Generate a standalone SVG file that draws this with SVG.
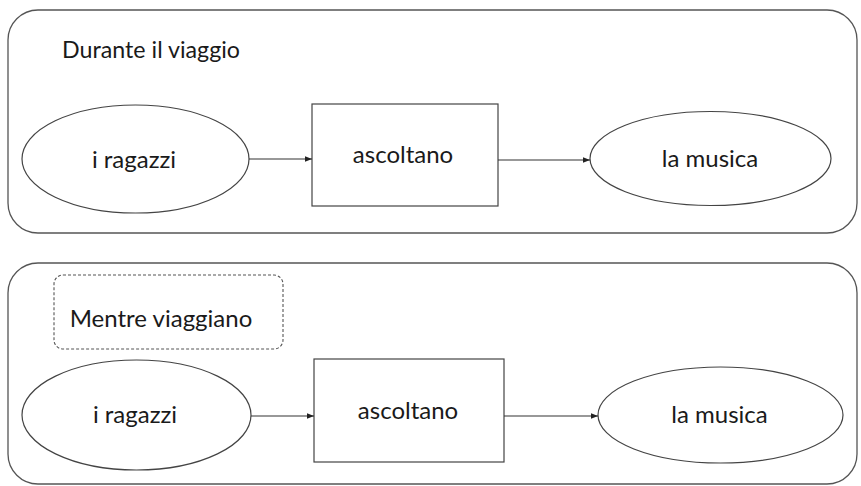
<svg xmlns="http://www.w3.org/2000/svg" width="861" height="486" viewBox="0 0 861 486">
  <style>
    .panel { fill: #ffffff; stroke: #555555; stroke-width: 1.3; }
    .node { fill: #ffffff; stroke: #444444; stroke-width: 1.2; }
    .tag { fill: none; stroke: #555555; stroke-width: 1.1; stroke-dasharray: 3 2; }
    .lbl { font-family: Lato, "Open Sans", sans-serif; font-size: 24px; fill: #1a1a1a; }
    .mid { text-anchor: middle; }
    .edge { stroke: #333333; stroke-width: 1.1; fill: none; marker-end: url(#arrow); }
  </style>
  <defs>
    <marker id="arrow" viewBox="0 0 10 10" refX="10" refY="5" markerWidth="7" markerHeight="7" markerUnits="userSpaceOnUse" orient="auto">
      <path d="M0,1 L10,5 L0,9 z" fill="#222222"/>
    </marker>
  </defs>

  <rect width="861" height="486" fill="#ffffff"/>

  <!-- first sentence -->
  <g id="panel-durante">
    <rect class="panel" x="8" y="10" width="849" height="223" rx="30" ry="30"/>
    <text class="lbl" x="62" y="58" textLength="178" lengthAdjust="spacingAndGlyphs">Durante il viaggio</text>
  </g>
  <g id="ragazzi-1">
    <ellipse class="node" cx="135.5" cy="159" rx="113.5" ry="54"/>
    <text class="lbl mid" x="134" y="168">i ragazzi</text>
  </g>
  <g id="ascoltano-1">
    <rect class="node" x="312" y="104" width="186" height="102"/>
    <text class="lbl mid" x="403" y="163">ascoltano</text>
  </g>
  <g id="musica-1">
    <ellipse class="node" cx="710.5" cy="158.5" rx="120.5" ry="47"/>
    <text class="lbl mid" x="710" y="167">la musica</text>
  </g>

  <!-- second sentence -->
  <g id="panel-mentre">
    <rect class="panel" x="8" y="263" width="849" height="221" rx="30" ry="30"/>
  </g>
  <g id="mentre-viaggiano">
    <rect class="tag" x="54" y="275" width="229" height="74" rx="9" ry="9"/>
    <text class="lbl mid" x="161" y="327">Mentre viaggiano</text>
  </g>
  <g id="ragazzi-2">
    <ellipse class="node" cx="136.5" cy="415" rx="114.5" ry="55"/>
    <text class="lbl mid" x="135" y="423">i ragazzi</text>
  </g>
  <g id="ascoltano-2">
    <rect class="node" x="314" y="359" width="190" height="103"/>
    <text class="lbl mid" x="408" y="419">ascoltano</text>
  </g>
  <g id="musica-2">
    <ellipse class="node" cx="720.5" cy="415" rx="122.5" ry="48"/>
    <text class="lbl mid" x="719.5" y="423">la musica</text>
  </g>

  <g id="connectors">
    <line class="edge" x1="249" y1="159" x2="312" y2="159"/>
    <line class="edge" x1="498" y1="160" x2="590" y2="160"/>
    <line class="edge" x1="251" y1="416" x2="314" y2="416"/>
    <line class="edge" x1="504" y1="416" x2="598" y2="416"/>
  </g>
</svg>
